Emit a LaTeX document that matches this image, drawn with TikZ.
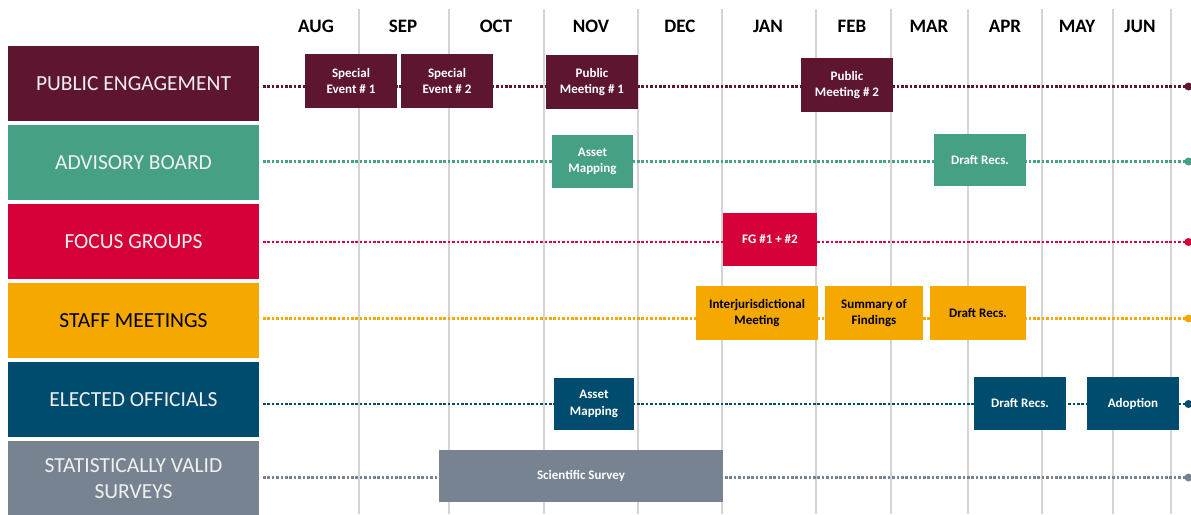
\documentclass[tikz,border=0pt]{standalone}
\usepackage{fontspec}
\setmainfont{Carlito}
\definecolor{cPE}{HTML}{5E1630}
\definecolor{cAB}{HTML}{46A085}
\definecolor{cFG}{HTML}{D50037}
\definecolor{cSM}{HTML}{F5A800}
\definecolor{cEO}{HTML}{004C6E}
\definecolor{cSV}{HTML}{778390}
\definecolor{grid}{HTML}{D4D4D4}
\tikzset{
  rowlabel/.style={rectangle, inner sep=0pt, minimum width=251pt, minimum height=75pt, text=white!94!black, font=\fontsize{21.5}{25}\selectfont, align=center},
  ev/.style={rectangle, inner sep=0pt, minimum width=92pt, minimum height=54pt, text=white, font=\bfseries\fontsize{13}{16.5}\selectfont, align=center},
  month/.style={font=\bfseries\fontsize{19}{21}\selectfont, inner sep=0pt},
  gridline/.style={draw=grid, line width=1.4pt},
  dots/.style={line width=2.8pt, dash pattern=on 2.5pt off 1.9pt},
  enddot/.style={circle, inner sep=0pt, minimum size=8pt}
}
\begin{document}
\begin{tikzpicture}[x=1pt,y=-1pt]
\useasboundingbox (0,0) rectangle (1191,514);
% grid lines
\foreach \gx in {359,449,544,638,722,816,891,968,1042,1113,1171}
  \draw[gridline] (\gx,9) -- (\gx,514);
% months
\node[month] (m1) at (316,26) {AUG};
\node[month] (m2) at (403,26) {SEP};
\node[month] (m3) at (496,26) {OCT};
\node[month] (m4) at (591,26) {NOV};
\node[month] (m5) at (680,26) {DEC};
\node[month] (m6) at (768,26) {JAN};
\node[month] (m7) at (852,26) {FEB};
\node[month] (m8) at (929,26) {MAR};
\node[month] (m9) at (1005,26) {APR};
\node[month] (m10) at (1077,26) {MAY};
\node[month] (m11) at (1140,26) {JUN};
% row labels
\node[rowlabel, fill=cPE] (rPE) at (133.5,83.5) {PUBLIC ENGAGEMENT};
\node[rowlabel, fill=cAB] (rAB) at (133.5,162.5) {ADVISORY BOARD};
\node[rowlabel, fill=cFG] (rFG) at (133.5,241.5) {FOCUS GROUPS};
\node[rowlabel, fill=cSM, text=black] (rSM) at (133.5,320.5) {STAFF MEETINGS};
\node[rowlabel, fill=cEO] (rEO) at (133.5,399.5) {ELECTED OFFICIALS};
\node[rowlabel, fill=cSV, minimum height=76pt] (rSV) at (133.5,479) {STATISTICALLY VALID\\[1pt]SURVEYS};
% timeline coordinates
\coordinate (s1) at (263,86.5);  \coordinate (e1) at (1188.5,86.5);
\coordinate (s2) at (263,161.5); \coordinate (e2) at (1188.5,161.5);
\coordinate (s3) at (263,242);   \coordinate (e3) at (1188.5,242);
\coordinate (s4) at (263,318.5); \coordinate (e4) at (1188.5,318.5);
\coordinate (s5) at (263,404);   \coordinate (e5) at (1188.5,404);
\coordinate (s6) at (263,477.5); \coordinate (e6) at (1188.5,477.5);
\draw[dots, draw=cPE] (s1) -- (e1);
\draw[dots, draw=cAB] (s2) -- (e2);
\draw[dots, draw=cFG] (s3) -- (e3);
\draw[dots, draw=cSM] (s4) -- (e4);
\draw[dots, draw=cEO] (s5) -- (e5);
\draw[dots, draw=cSV] (s6) -- (e6);
\node[enddot, fill=cPE] (d1) at (e1) {};
\node[enddot, fill=cAB] (d2) at (e2) {};
\node[enddot, fill=cFG] (d3) at (e3) {};
\node[enddot, fill=cSM] (d4) at (e4) {};
\node[enddot, fill=cEO] (d5) at (e5) {};
\node[enddot, fill=cSV] (d6) at (e6) {};
% public engagement
\node[ev, fill=cPE] (se1) at (351,81) {Special\\Event \# 1};
\node[ev, fill=cPE] (se2) at (447,81) {Special\\Event \# 2};
\node[ev, fill=cPE] (pm1) at (592,82) {Public\\Meeting \# 1};
\node[ev, fill=cPE] (pm2) at (847,85) {Public\\Meeting \# 2};
% advisory board
\node[ev, fill=cAB, minimum width=81pt, minimum height=53pt] (am1) at (592.5,161.5) {Asset\\Mapping};
\node[ev, fill=cAB, minimum height=52pt] (dr1) at (980,160) {Draft Recs.};
% focus groups
\node[ev, fill=cFG, minimum width=94pt, minimum height=53pt] (fg) at (770,239.5) {FG \#1 + \#2};
% staff meetings
\node[ev, fill=cSM, text=black, minimum width=122pt] (im) at (757,313) {Interjurisdictional\\Meeting};
\node[ev, fill=cSM, text=black, minimum width=98pt] (sf) at (874,313) {Summary of\\Findings};
\node[ev, fill=cSM, text=black, minimum width=96pt] (dr2) at (978,313) {Draft Recs.};
% elected officials
\node[ev, fill=cEO, minimum width=80pt, minimum height=52pt] (am2) at (594,404) {Asset\\Mapping};
\node[ev, fill=cEO, minimum height=53pt] (dr3) at (1020,403.5) {Draft Recs.};
\node[ev, fill=cEO, minimum height=53pt] (ad) at (1133,403.5) {Adoption};
% surveys
\node[ev, fill=cSV, minimum width=284pt, minimum height=52pt] (ss) at (581,476) {Scientific Survey};
\end{tikzpicture}
\end{document}
